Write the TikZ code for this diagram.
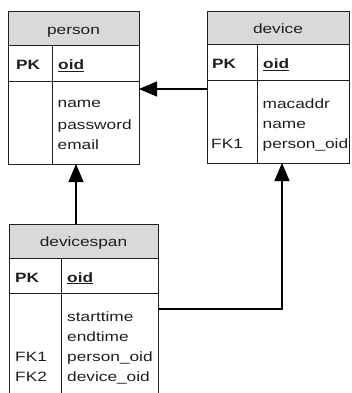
\documentclass[tikz,border=0pt]{standalone}
\usepackage{fontspec}
\setmainfont{Liberation Sans}[FakeStretch=1.28]
\usetikzlibrary{arrows.meta}
\definecolor{hdr}{HTML}{D9D9D9}
\definecolor{ink}{HTML}{1E1E1E}
\tikzset{
  tablebox/.style={draw=ink, line width=1pt, rectangle, anchor=north west, inner sep=0pt, outer sep=0pt},
  rule/.style={draw=ink, line width=1pt},
  hdrtext/.style={anchor=base, inner sep=0pt, text=ink, font=\fontsize{13.5}{20}\selectfont},
  fieldtext/.style={anchor=base west, inner sep=0pt, text=ink, font=\fontsize{13.5}{20}\selectfont},
  keytext/.style={anchor=base west, inner sep=0pt, text=ink, font=\fontsize{13.5}{20}\selectfont\bfseries},
  fk/.style={draw=black, line width=1.2pt, -{Triangle[length=18pt,width=15pt]}},
}
\begin{document}
\begin{tikzpicture}[x=1pt,y=-1pt]
\useasboundingbox (0,0) rectangle (352,393);
\begin{scope}
\clip (0,0) rectangle (352,393);
% person
\fill[hdr] (8,12) rectangle (139,46);
\node[tablebox, minimum width=131pt, minimum height=152pt] (person) at (8,12) {};
\draw[rule] (8,46) -- (139,46);
\draw[rule] (8,82) -- (139,82);
\draw[rule] (52,46) -- (52,164);
\node[hdrtext] (ptitle) at (73.5,35) {person};
\node[keytext] (ppk) at (16,70) {PK};
\node[keytext] (poid) at (58,70) {\underline{oid}};
\node[fieldtext] (pname) at (57.5,108) {name};
\node[fieldtext] (ppass) at (57.5,129) {password};
\node[fieldtext] (pmail) at (57.5,149) {email};
% device
\fill[hdr] (207,12) rectangle (349,45);
\node[tablebox, minimum width=142pt, minimum height=151pt] (device) at (207,12) {};
\draw[rule] (207,45) -- (349,45);
\draw[rule] (207,81) -- (349,81);
\draw[rule] (257,45) -- (257,163);
\node[hdrtext] (dtitle) at (278,33.5) {device};
\node[keytext] (dpk) at (212,69) {PK};
\node[keytext] (doid) at (263,69) {\underline{oid}};
\node[fieldtext] (dmac) at (262.5,109) {macaddr};
\node[fieldtext] (dname) at (262.5,128.5) {name};
\node[fieldtext] (dpo) at (262.5,148) {person\_oid};
\node[fieldtext] (dfk) at (211,148) {FK1};
% devicespan
\fill[hdr] (9,224) rectangle (158,258);
\node[tablebox, minimum width=149pt, minimum height=180pt] (dspan) at (9,224) {};
\draw[rule] (9,258) -- (158,258);
\draw[rule] (9,293) -- (158,293);
\draw[rule] (61,258) -- (61,404);
\node[hdrtext] (stitle) at (83.5,246.5) {devicespan};
\node[keytext] (spk) at (15,282) {PK};
\node[keytext] (soid) at (67,282) {\underline{oid}};
\node[fieldtext] (sst) at (67,321.5) {starttime};
\node[fieldtext] (sen) at (67,341.5) {endtime};
\node[fieldtext] (spo) at (67,361.5) {person\_oid};
\node[fieldtext] (sdo) at (67,381.5) {device\_oid};
\node[fieldtext] (sfk1) at (15,361.5) {FK1};
\node[fieldtext] (sfk2) at (15,381.5) {FK2};
\end{scope}
% connectors
\coordinate (dsout) at (158,309);
\coordinate (bend) at (282,309);
\coordinate (devin) at (282,163);
\coordinate (pin) at (76,164);
\coordinate (dsin) at (76,224);
\draw[fk] (device.west |- 0,89) -- (person.east |- 0,89);
\draw[fk] (dsin) -- (pin);
\draw[fk] (dsout) -- (bend) -- (devin);
\end{tikzpicture}
\end{document}
